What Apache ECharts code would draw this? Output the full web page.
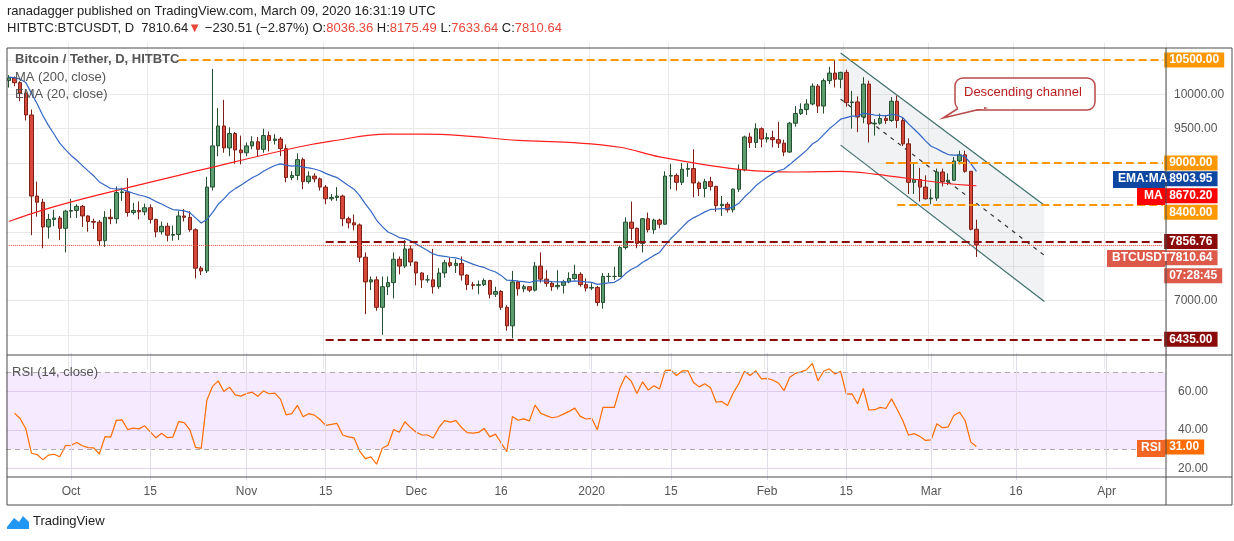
<!DOCTYPE html>
<html><head><meta charset="utf-8">
<script src="https://cdn.jsdelivr.net/npm/echarts@6/dist/echarts.min.js"></script>
<style>html,body{margin:0;padding:0;background:#fff}#c{width:1234px;height:541px}</style>
</head><body><div id="c"></div>
<script>
// ---- DATA ----
const startDate = Date.UTC(2019, 8, 20);
const totalDays = 205;
const firstOpen = 10200;
const closes = [
 10240,10170,10020,9700,8520,8430,8070,8180,8200,8050,8300,
 8310,8370,8230,8150,8140,7870,8210,8190,8570,8580,8280,8310,8290,8350,8180,8000,8080,7950,7960,8230,8210,8030,7470,7430,8650,9250,9540,9220,9430,9190,9150,
 9250,9310,9200,9400,9330,9350,9210,8790,8820,9050,8730,8810,8770,8650,8480,8500,8520,8190,8130,8100,7630,7270,7300,6900,7200,7260,7600,7500,7750,7560,
 7400,7300,7300,7200,7400,7550,7510,7540,7370,7230,7220,7230,7290,7090,7130,6900,6630,7270,7170,7200,7150,7500,7310,7250,7200,7220,7270,7320,7380,7230,7180,
 7190,6970,7350,7350,7350,7770,8140,8050,7830,8190,8030,8170,8110,8810,8820,8720,8910,8920,8710,8630,8730,8660,8380,8400,8320,8620,8900,9380,9300,9500,9350,
 9370,9340,9290,9160,9580,9720,9780,9860,10120,9830,10200,10310,10220,10320,9880,9890,9670,10150,9570,9580,9650,9620,9900,9620,9280,8720,8760,8650,8480,
 8490,8870,8730,8750,9030,9120,8880,8036.36,7810.64
];
const highs = [
 10280,10260,10190,10050,9780,8730,8480,8260,8320,8230,8320,
 8480,8400,8390,8240,8190,8170,8300,8330,8660,8640,8780,8420,8440,8410,8400,8190,8150,8130,8090,8300,8330,8300,8050,7500,8800,10370,9800,9920,9520,9450,9400,
 9300,9390,9380,9500,9460,9420,9380,9270,8880,9140,9080,8880,8850,8790,8680,8550,8650,8540,8220,8250,8120,7700,7350,7350,7350,7350,7700,7640,7880,7800,
 7560,7410,7370,7750,7470,7590,7630,7600,7640,7380,7270,7290,7320,7300,7200,7150,6930,7430,7290,7230,7200,7560,7700,7440,7280,7440,7300,7410,7520,7410,7320,
 7250,7210,7400,7400,7490,7790,8210,8440,8060,8200,8280,8190,8190,8880,8990,8850,9000,9000,9200,8730,8770,8800,8670,8520,8430,8630,8980,9400,9440,9580,9520,
 9440,9470,9600,9340,9600,9830,9870,9930,10160,10150,10230,10400,10500,10330,10360,10050,9970,10250,10200,9640,9720,9700,9960,9980,9670,9360,8990,8930,8820,
 8620,8920,8920,8850,9090,9180,9180,8880,8175.49
];
const lows = [
 10100,10120,9900,9620,7950,8220,7760,7900,8080,7880,7700,
 8200,8200,8070,8000,8040,7800,7780,8110,8120,8450,8220,8250,8180,8240,8120,7920,7960,7860,7870,7880,8150,8000,7320,7370,7400,8600,9100,9150,9100,8990,8980,
 9100,9200,9100,9150,9170,9270,9100,8720,8750,8750,8620,8700,8720,8600,8400,8450,8450,8080,8050,8020,7560,6800,7150,6850,6500,7080,7030,7380,7470,7500,
 7220,7180,7260,7100,7170,7330,7480,7400,7290,7150,7160,7090,7210,7030,7050,6860,6560,6450,7070,7120,7120,7130,7260,7200,7140,7160,7100,7250,7300,7200,7130,
 7150,6920,6880,7270,7300,7350,7740,7880,7760,7700,7990,7970,8050,8100,8620,8600,8680,8800,8500,8520,8500,8600,8290,8230,8280,8280,8580,8880,9220,9220,9230,
 9300,9230,9220,9100,9150,9530,9700,9700,9840,9730,9720,10150,10100,10090,9820,9500,9450,9580,9300,9400,9560,9570,9600,9510,9250,8550,8550,8440,8470,
 8400,8450,8660,8680,8740,8980,8860,8020,7633.64
];
// MA(200): [day index, value]
const ma200 = [[0,8150],[7,8340],[16,8540],[34,8900],[51,9230],[57,9320],[67,9420],[73,9420],[80,9400],[90,9330],[99,9300],[108,9230],[115,9090],[130,8900],[139,8870],[147,8880],[153,8840],[165,8710],[171,8670]];
const tickIdx  = [11,25,42,56,72,87,103,117,134,148,163,178,194];
const tickText = ['Oct','15','Nov','15','Dec','16','2020','15','Feb','15','Mar','16','Apr'];
const priceTicksShown = [10000,9500,7000];
const lvl10500 = 10500, lvl9000 = 9000, lvl8400 = 8400, lvl7856 = 7856.76, lvl6435 = 6435;
const lastPrice = 7810.64, emaLast = 8903.95, maLast = 8670.20, rsiLast = 31.00;
const channel = { upper:[[147.3,10602],[183,8386]], mid:[[147.3,9931],[183,7657]], lower:[[147.3,9261],[183.2,6986]] };

// ---- build ----
const N = totalDays;
const cats = [];
for (let i=0;i<N;i++){ const d=new Date(startDate+i*864e5); cats.push(d.toISOString().slice(0,10)); }
const candles = [];
for (let i=0;i<N;i++){
  if (i<closes.length){ const o = i===0?firstOpen:closes[i-1]; candles.push([o,closes[i],lows[i],highs[i]]); }
  else candles.push('-');
}
const ema=[]; let e=10250; const k=2/21;
for (let i=0;i<closes.length;i++){ e = i===0? e : closes[i]*k + e*(1-k); ema.push(+e.toFixed(2)); }
const rsi=[null]; let ag=100, al=100;
for (let i=1;i<closes.length;i++){ const ch=closes[i]-closes[i-1]; ag=(ag*13+Math.max(ch,0))/14; al=(al*13+Math.max(-ch,0))/14; rsi.push(+(100-100/(1+ag/al)).toFixed(2)); }
const maData = new Array(N).fill(null); ma200.forEach(p=>maData[p[0]]=p[1]);

const isTick = i => tickIdx.indexOf(i)>=0;
const font = 'Liberation Sans, Arial, sans-serif';
function lab(text,bg,offset){
  return {show:true,position:'end',distance:1,formatter:text,color:'#fff',fontWeight:'bold',fontSize:12,fontFamily:font,backgroundColor:bg,padding:[2,5,1,5],offset:[0,offset||0]};
}
function lvl(start,v,color,type,width,label,offset){
  return [{coord:[start,v],lineStyle:{color,type,width},label:label?lab(label,color,offset):{show:false}},{coord:[N-1,v]}];
}
function tag(v,bg,text,offset){
  return [{coord:[N-8,v],lineStyle:{color:'rgba(255,255,255,0)',width:1},label:lab(text,bg,offset)},{coord:[N-1,v]}];
}
const chart = echarts.init(document.getElementById('c'));
chart.setOption({
  animation:false,
  textStyle:{fontFamily:font},
  grid:[{left:6,right:68,top:42.85,bottom:171.85},{left:6,right:68,top:353,bottom:34.4}],
  xAxis:[
    {type:'category',data:cats,gridIndex:0,boundaryGap:true,axisLine:{show:false},axisTick:{show:false},axisLabel:{show:false},
     splitLine:{show:true,interval:(i)=>isTick(i),lineStyle:{color:'#e9e9e9'}}},
    {type:'category',data:cats,gridIndex:1,boundaryGap:true,axisLine:{show:false},axisTick:{show:false},offset:-21,
     axisLabel:{interval:(i)=>isTick(i),margin:0,color:'#555',fontSize:12,formatter:(v,i)=>tickText[tickIdx.indexOf(i)]},splitLine:{show:false}}
  ],
  yAxis:[
    {type:'value',gridIndex:0,position:'right',min:6000,max:10750,interval:500,axisLine:{show:false},axisTick:{show:false},
     axisLabel:{color:'#555',fontSize:12,margin:8,formatter:v=>priceTicksShown.indexOf(v)>=0?v.toFixed(2):''},
     splitLine:{show:true,showMinLine:false,showMaxLine:false,lineStyle:{color:'#e9e9e9'}}},
    {type:'value',gridIndex:1,position:'right',min:0,max:80,interval:20,axisLine:{show:false},axisTick:{show:false},
     axisLabel:{color:'#555',fontSize:12,margin:12,formatter:v=>(v===0||v===80)?'':v.toFixed(2)},
     splitLine:{show:true,showMinLine:false,showMaxLine:false,lineStyle:{color:'#e2d6ee'}}}
  ],
  series:[
    {type:'custom',xAxisIndex:0,yAxisIndex:0,data:[[0]],z:1,silent:true,
     renderItem:(p,api)=>{
       const u0=api.coord(channel.upper[0]),u1=api.coord(channel.upper[1]),l0=api.coord(channel.lower[0]),l1=api.coord(channel.lower[1]),m0=api.coord(channel.mid[0]),m1=api.coord(channel.mid[1]);
       return {type:'group',children:[
         {type:'polygon',shape:{points:[u0,u1,l1,l0]},style:{fill:'rgba(150,160,180,0.14)'}},
         {type:'line',shape:{x1:u0[0],y1:u0[1],x2:u1[0],y2:u1[1]},style:{stroke:'#3f6f6c',lineWidth:1.2}},
         {type:'line',shape:{x1:l0[0],y1:l0[1],x2:l1[0],y2:l1[1]},style:{stroke:'#3f6f6c',lineWidth:1.2}},
         {type:'line',shape:{x1:m0[0],y1:m0[1],x2:m1[0],y2:m1[1]},style:{stroke:'#333',lineWidth:1.2,lineDash:[4,5]}}
       ]};
     }},
    {type:'candlestick',xAxisIndex:0,yAxisIndex:0,data:candles,barWidth:4,z:3,
     itemStyle:{color:'#5c9d70',color0:'#d6493a',borderColor:'#24502f',borderColor0:'#7d1f14',borderWidth:1},
     markLine:{symbol:['none','none'],silent:true,animation:false,
      data:[
        lvl(0,lastPrice,'#e8473a','dotted',1,null),
        lvl(30,lvl10500,'#ff9800','dashed',2,lvl10500.toFixed(2)),
        lvl(155,lvl9000,'#ff9800','dashed',2,lvl9000.toFixed(2)),
        lvl(157,lvl8400,'#ff9800','dashed',2,lvl8400.toFixed(2),8),
        lvl(56,lvl7856,'#8b0a0a','dashed',2,lvl7856.toFixed(2)),
        lvl(56,lvl6435,'#8b0a0a','dashed',2,lvl6435.toFixed(2)),
        tag(emaLast,'#0d47a1',emaLast.toFixed(2),9),
        tag(maLast,'#ff0000',maLast.toFixed(2),10),
        tag(lastPrice,'#dd5a4a',lastPrice.toFixed(2),13),
        tag(lastPrice,'#dd5a4a','07:28:45',31)
      ]}},
    {type:'line',xAxisIndex:0,yAxisIndex:0,data:maData,connectNulls:true,smooth:0.4,symbol:'none',z:4,lineStyle:{color:'#ff2020',width:1.2}},
    {type:'line',xAxisIndex:0,yAxisIndex:0,data:ema,symbol:'none',z:4,lineStyle:{color:'#3367c6',width:1.2}},
    {type:'line',xAxisIndex:1,yAxisIndex:1,data:rsi,symbol:'none',z:4,lineStyle:{color:'#ff6d00',width:1.2},
     markArea:{silent:true,itemStyle:{color:'rgba(215,170,255,0.25)'},data:[[{yAxis:30},{yAxis:70}]]},
     markLine:{symbol:['none','none'],silent:true,label:{show:false},
      data:[{yAxis:70,lineStyle:{color:'#aaa',type:[5,4],width:1}},{yAxis:30,lineStyle:{color:'#aaa',type:[5,4],width:1}},
       ...tickIdx.map(i=>[{coord:[i,13.8],lineStyle:{color:'#e2dce8',type:'solid',width:1}},{coord:[i,80]}]),
       [{coord:[N-8,rsiLast],lineStyle:{color:'rgba(255,255,255,0)',width:1},label:lab(rsiLast.toFixed(2),'#ff6d00',0)},{coord:[N-1,rsiLast]}]
      ]}}
  ],
  graphic:[
    {type:'rect',shape:{x:7,y:48,width:1225,height:457},style:{fill:'none',stroke:'#4a4a4a',lineWidth:1},z:50},
    {type:'line',shape:{x1:1166,y1:48,x2:1166,y2:505},style:{stroke:'#4a4a4a',lineWidth:1},z:50},
    {type:'line',shape:{x1:7,y1:355,x2:1232,y2:355},style:{stroke:'#4a4a4a',lineWidth:1},z:50},
    {type:'line',shape:{x1:7,y1:477,x2:1232,y2:477},style:{stroke:'#4a4a4a',lineWidth:1},z:50},
    {type:'text',left:7,top:5,style:{text:'ranadagger published on TradingView.com, March 09, 2020 16:31:19 UTC',fontSize:13,fill:'#222',fontFamily:font},z:50},
    {type:'text',left:7,top:22,style:{text:'{b|HITBTC:BTCUSDT, D  7810.64}{r|▼}{b| −230.51 (−2.87%) O:}{r|8036.36}{b| H:}{r|8175.49}{b| L:}{r|7633.64}{b| C:}{r|7810.64}',
      rich:{b:{fontSize:13,fill:'#222',fontFamily:font},r:{fontSize:13,fill:'#e8473a',fontFamily:font}}},z:50},
    {type:'text',left:15,top:53,style:{text:'Bitcoin / Tether, D, HITBTC',fontSize:13,fill:'#555',fontWeight:'bold',fontFamily:font},z:50},
    {type:'text',left:15,top:71,style:{text:'MA (200, close)',fontSize:13,fill:'#555',fontFamily:font},z:50},
    {type:'text',left:15,top:88,style:{text:'EMA (20, close)',fontSize:13,fill:'#555',fontFamily:font},z:50},
    {type:'text',left:12,top:366,style:{text:'RSI (14, close)',fontSize:13,fill:'#555',fontFamily:font},z:50},
    {type:'rect',shape:{x:1113,y:171,width:52,height:17},style:{fill:'#0d47a1'},z:50},
    {type:'text',left:1118,top:173,style:{text:'EMA:MA',fontSize:12,fontWeight:'bold',fill:'#fff',fontFamily:font},z:51},
    {type:'rect',shape:{x:1137,y:188,width:28,height:17},style:{fill:'#ff0000'},z:50},
    {type:'text',left:1144,top:190,style:{text:'MA',fontSize:12,fontWeight:'bold',fill:'#fff',fontFamily:font},z:51},
    {type:'rect',shape:{x:1107,y:250,width:58,height:17},style:{fill:'#dd5a4a'},z:50},
    {type:'text',left:1112,top:252,style:{text:'BTCUSDT',fontSize:12,fontWeight:'bold',fill:'#fff',fontFamily:font},z:51},
    {type:'rect',shape:{x:1137,y:440,width:28,height:17},style:{fill:'#f26522'},z:50},
    {type:'text',left:1141,top:442,style:{text:'RSI',fontSize:12,fontWeight:'bold',fill:'#fff',fontFamily:font},z:51},
    {type:'polygon',shape:{points:[[965,104],[943,118],[985,108]]},style:{fill:'#fff',stroke:'#b84a4a',lineWidth:1.5},z:52},
    {type:'rect',shape:{x:955,y:78,width:140,height:32,r:8},style:{fill:'#fff',stroke:'#b84a4a',lineWidth:1.5},z:51},
    {type:'rect',shape:{x:958,y:100,width:26,height:9},style:{fill:'#fff'},z:53},
    {type:'text',left:964,top:86,style:{text:'Descending channel',fontSize:13,fill:'#b71c1c',fontFamily:font},z:54},
    {type:'polygon',shape:{points:[[7,527],[14,518],[19,522],[23,516],[29,522],[29,529],[7,529]]},style:{fill:'#2196f3'},z:50},
    {type:'text',left:33,top:515,style:{text:'TradingView',fontSize:13,fill:'#222',fontFamily:font},z:50}
  ]
});
</script></body></html>
